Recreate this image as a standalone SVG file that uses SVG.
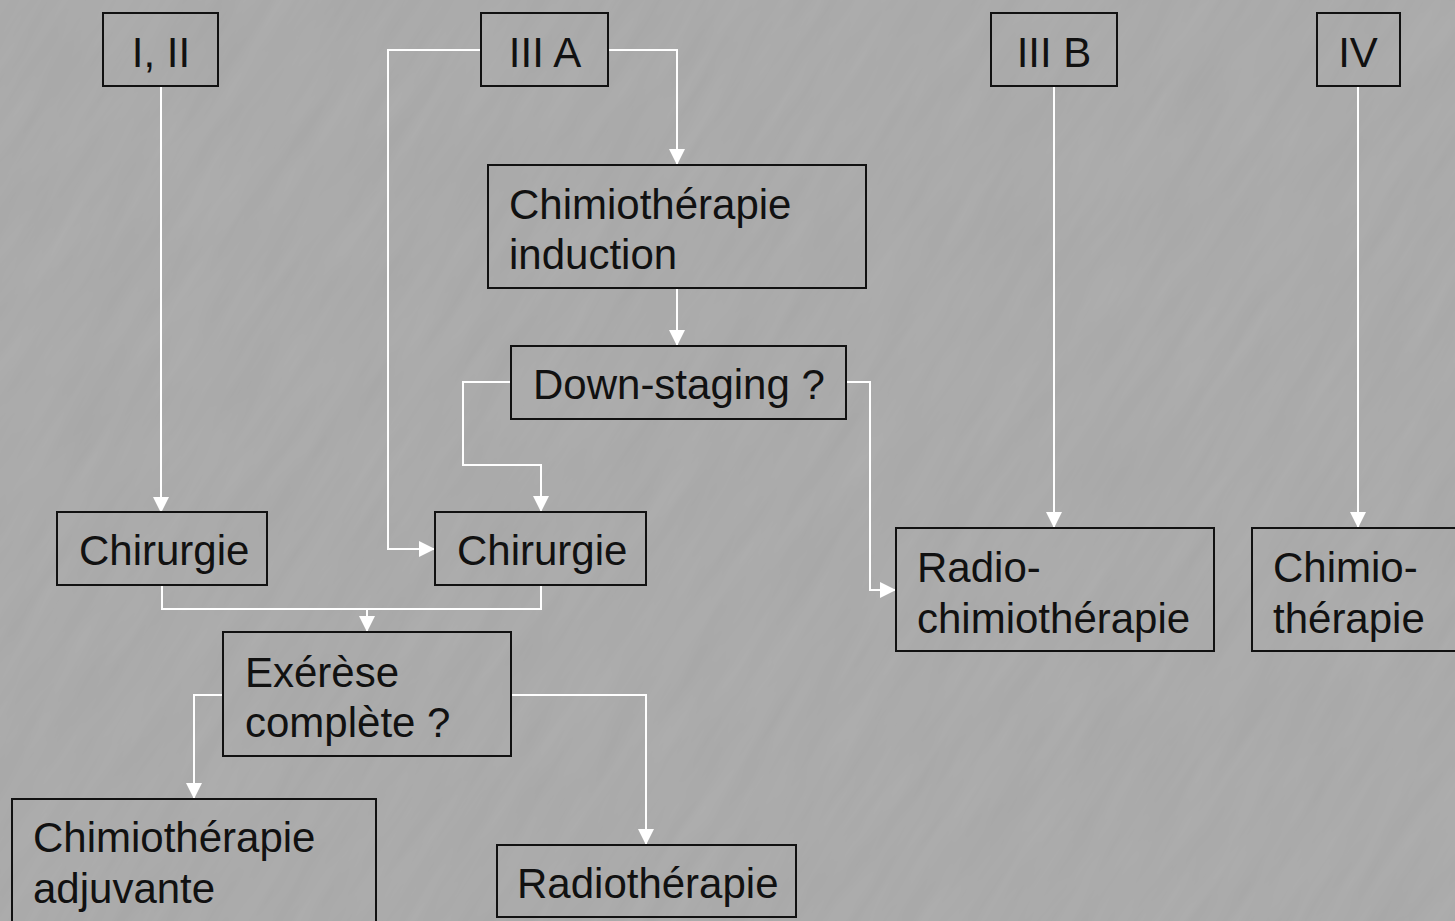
<svg xmlns="http://www.w3.org/2000/svg" width="1455" height="921" viewBox="0 0 1455 921">
<defs>
<style>
.box{fill:none;stroke:#111;stroke-width:2}
.t{font-family:"Liberation Sans",Arial,sans-serif;font-size:42px;fill:#111}
.c{fill:none;stroke:#fff;stroke-width:2}
.tm{text-anchor:middle}
</style>
<marker id="ah" markerUnits="userSpaceOnUse" markerWidth="16" markerHeight="16" refX="16" refY="8" orient="auto">
<path d="M0,0 L16,8 L0,16 z" fill="#fff"/>
</marker>
<filter id="tex" x="0" y="0" width="100%" height="100%">
<feTurbulence type="fractalNoise" baseFrequency="0.008 0.06" numOctaves="3" seed="4"/>
<feColorMatrix type="matrix" values="0 0 0 0 1  0 0 0 0 1  0 0 0 0 1  0 0 0 0.09 -0.015"/>
</filter>
</defs>
<rect width="1455" height="921" fill="#a8a8a8"/>
<g transform="rotate(-58 727 460)"><rect x="-700" y="-700" width="2900" height="2300" filter="url(#tex)"/></g>

<g id="connectors">
<path class="c" d="M161,86 V513" marker-end="url(#ah)"/>
<path class="c" d="M481,50 H388 V549 H435" marker-end="url(#ah)"/>
<path class="c" d="M608,50 H677 V165" marker-end="url(#ah)"/>
<path class="c" d="M677,288 V346" marker-end="url(#ah)"/>
<path class="c" d="M511,382 H463 V465 H541 V512" marker-end="url(#ah)"/>
<path class="c" d="M846,382 H870 V590 H896" marker-end="url(#ah)"/>
<path class="c" d="M1054,86 V528" marker-end="url(#ah)"/>
<path class="c" d="M1358,86 V528" marker-end="url(#ah)"/>
<path class="c" d="M162,585 V609 H541 V585"/>
<path class="c" d="M367,609 V632" marker-end="url(#ah)"/>
<path class="c" d="M223,695 H194 V799" marker-end="url(#ah)"/>
<path class="c" d="M511,695 H646 V845" marker-end="url(#ah)"/>
</g>

<g id="n-i-ii"><rect class="box" x="103" y="13" width="115" height="73"/><text class="t tm" x="161" y="67">I, II</text></g>
<g id="n-iiia"><rect class="box" x="481" y="13" width="127" height="73"/><text class="t tm" x="545" y="67">III A</text></g>
<g id="n-iiib"><rect class="box" x="991" y="13" width="126" height="73"/><text class="t tm" x="1054" y="67">III B</text></g>
<g id="n-iv"><rect class="box" x="1317" y="13" width="83" height="73"/><text class="t tm" x="1358" y="67">IV</text></g>
<g id="n-chimio-ind"><rect class="box" x="488" y="165" width="378" height="123"/><text class="t" x="509" y="219">Chimiothérapie</text><text class="t" x="509" y="269">induction</text></g>
<g id="n-downstaging"><rect class="box" x="511" y="346" width="335" height="73"/><text class="t" x="533" y="399">Down-staging ?</text></g>
<g id="n-chir1"><rect class="box" x="57" y="512" width="210" height="73"/><text class="t" x="79" y="565">Chirurgie</text></g>
<g id="n-chir2"><rect class="box" x="435" y="512" width="211" height="73"/><text class="t" x="457" y="565">Chirurgie</text></g>
<g id="n-radiochimio"><rect class="box" x="896" y="528" width="318" height="123"/><text class="t" x="917" y="582">Radio-</text><text class="t" x="917" y="633">chimiothérapie</text></g>
<g id="n-chimio"><rect class="box" x="1252" y="528" width="215" height="123"/><text class="t" x="1273" y="582">Chimio-</text><text class="t" x="1273" y="633">thérapie</text></g>
<g id="n-exerese"><rect class="box" x="223" y="632" width="288" height="124"/><text class="t" x="245" y="687">Exérèse</text><text class="t" x="245" y="737">complète ?</text></g>
<g id="n-chimio-adj"><rect class="box" x="12" y="799" width="364" height="130"/><text class="t" x="33" y="852">Chimiothérapie</text><text class="t" x="33" y="903">adjuvante</text></g>
<g id="n-radio"><rect class="box" x="497" y="845" width="299" height="72"/><text class="t" x="517" y="898">Radiothérapie</text></g>
</svg>
